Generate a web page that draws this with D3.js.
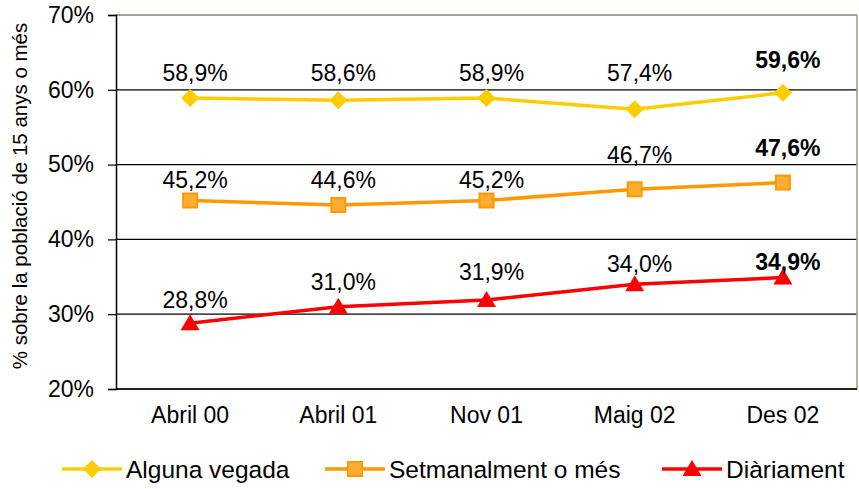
<!DOCTYPE html>
<html><head><meta charset="utf-8">
<script src="https://cdn.jsdelivr.net/npm/d3@7"></script>
<style>body{margin:0;background:#fff}svg{display:block;font-family:"Liberation Sans",Arial,sans-serif}</style>
</head><body><svg id="c" width="859" height="489"></svg>
<script>
const categories = ["Abril 00","Abril 01","Nov 01","Maig 02","Des 02"];
const algunaVegada = [58.9,58.6,58.9,57.4,59.6];
const setmanalment = [45.2,44.6,45.2,46.7,47.6];
const diariament = [28.8,31.0,31.9,34.0,34.9];
const yTicks = [20,30,40,50,60,70];
const seriesNames = ["Alguna vegada","Setmanalment o més","Diàriament"];
// label offsets (px above point)
const labelDyAlguna = [-25,-27,-25,-36,-33];
const labelDySetman = [-21,-25,-21,-34,-35];
const labelDyDiari = [-23,-25,-28,-20,-16];

const svg = d3.select("#c");
const L=116, R=857, T=15, B=389;
const x = d3.scaleBand().domain(categories).range([L,R]);
const y = d3.scaleLinear().domain([20,70]).range([B,T]);
const fmt = v => v.toFixed(1).replace(".",",")+"%";

// gridlines
svg.append("g").selectAll("line").data(yTicks.filter(t=>t>20&&t<70)).join("line")
  .attr("x1",L).attr("x2",R).attr("y1",d=>y(d)).attr("y2",d=>y(d))
  .attr("stroke","#000").attr("stroke-width",1.2);
// border
svg.append("line").attr("x1",L).attr("x2",R).attr("y1",y(70)).attr("y2",y(70)).attr("stroke","#85856a").attr("stroke-width",1.5);
svg.append("line").attr("x1",R).attr("x2",R).attr("y1",T).attr("y2",B).attr("stroke","#a09a70").attr("stroke-width",1.5);
svg.append("line").attr("x1",L).attr("x2",R).attr("y1",B).attr("y2",B).attr("stroke","#222").attr("stroke-width",2);

// y axis
const ya = svg.append("g").attr("transform",`translate(${L},0)`)
  .call(d3.axisLeft(y).tickValues(yTicks).tickFormat(d=>d+"%").tickSize(8).tickPadding(14));
ya.select(".domain").attr("stroke","#000").attr("stroke-width",1.5);
ya.selectAll(".tick line").attr("stroke","#000").attr("stroke-width",1.2);
ya.selectAll("text").attr("font-size",23).attr("fill","#000").attr("font-family","Liberation Sans, Arial");

// x axis labels
const xa = svg.append("g").attr("transform",`translate(0,${B})`)
  .call(d3.axisBottom(x).tickSize(0).tickPadding(18));
xa.select(".domain").remove();
xa.selectAll("text").attr("font-size",23).attr("fill","#000").attr("font-family","Liberation Sans, Arial");

// y label
svg.append("text").attr("transform",`translate(27,196) rotate(-90)`)
  .attr("text-anchor","middle").attr("font-size",20.5).text("% sobre la població de 15 anys o més");

const series = [
  {name:seriesNames[0], vals:algunaVegada, dy:labelDyAlguna, color:"#ffcc00", shape:"diamond"},
  {name:seriesNames[1], vals:setmanalment, dy:labelDySetman, color:"#ff9900", shape:"square"},
  {name:seriesNames[2], vals:diariament, dy:labelDyDiari, color:"#ff0000", shape:"triangle"}
];
const cx = c => x(c)+x.bandwidth()/2;
function marker(g, shape, color){
  if(shape==="diamond") g.append("path").attr("d","M0,-9L9,0L0,9L-9,0Z").attr("fill",color);
  else if(shape==="square") g.append("rect").attr("x",-7).attr("y",-7).attr("width",14).attr("height",14).attr("fill","#ffad33").attr("stroke",color).attr("stroke-width",2);
  else g.append("path").attr("d","M0,-9L9.5,7L-9.5,7Z").attr("fill",color);
}
series.forEach(s=>{
  const data = categories.map((c,i)=>({c,v:s.vals[i],dy:s.dy[i],i}));
  svg.append("path").datum(data).attr("fill","none").attr("stroke",s.color).attr("stroke-width",3.5)
    .attr("d",d3.line().x(d=>cx(d.c)).y(d=>y(d.v)));
  data.forEach(d=>{
    const g = svg.append("g").attr("transform",`translate(${cx(d.c)},${y(d.v)})`);
    marker(g,s.shape,s.color);
    svg.append("text").attr("x",cx(d.c)+5).attr("y",y(d.v)+d.dy).attr("dy","0.35em")
      .attr("text-anchor","middle").attr("font-size",23)
      .attr("font-weight",d.i===4?"bold":"normal").text(fmt(d.v));
  });
});

// legend
const legX = [62,325,662];
series.forEach((s,i)=>{
  const g = svg.append("g").attr("transform",`translate(${legX[i]},469)`);
  g.append("line").attr("x1",0).attr("x2",60).attr("stroke",s.color).attr("stroke-width",3.5);
  const m = g.append("g").attr("transform","translate(30,0)");
  marker(m,s.shape,s.color);
  g.append("text").attr("x",64).attr("dy","0.35em").attr("font-size",24.5).text(s.name);
});
</script></body></html>
